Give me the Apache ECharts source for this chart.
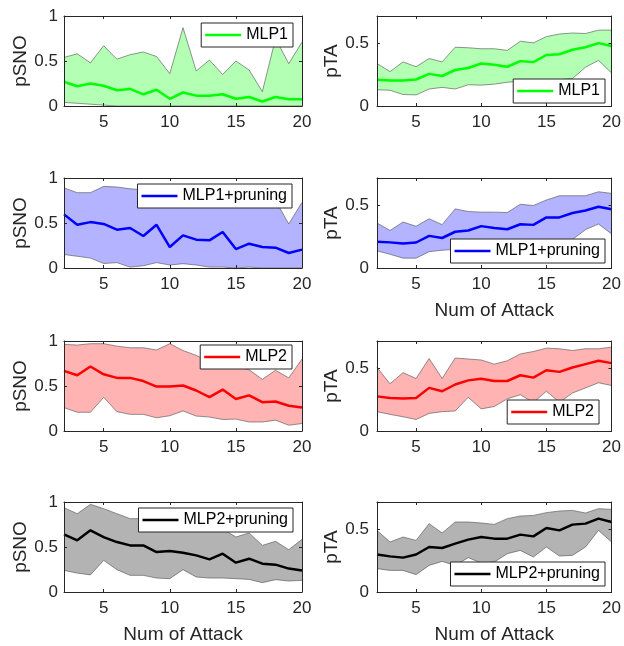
<!DOCTYPE html>
<html>
<head>
<meta charset="utf-8">
<script src="https://cdn.jsdelivr.net/npm/echarts@6/dist/echarts.min.js"></script>
<style>html,body{margin:0;padding:0;background:#fff}#c{width:624px;height:646px}</style>
</head>
<body>
<div id="c"></div>
<script>
// ---- data ----
const attacks = [2,3,4,5,6,7,8,9,10,11,12,13,14,15,16,17,18,19,20];
const xTicks = [5,10,15,20];
const snoTicks = [0,0.5,1];
const taTicks = [0,0.5];

const mlp1SnoMean  = [0.27,0.22,0.25,0.225,0.175,0.19,0.13,0.18,0.08,0.15,0.115,0.115,0.13,0.08,0.10,0.05,0.10,0.075,0.075];
const mlp1SnoUpper = [0.54,0.58,0.48,0.67,0.52,0.57,0.60,0.55,0.36,0.87,0.39,0.51,0.35,0.50,0.40,0.16,0.75,0.47,0.71];
const mlp1SnoLower = [0.04,0.03,0.02,0.01,0,0,0,0,0,0,0,0,0,0,0,0,0,0,0];

const mlp1TaMean  = [0.21,0.204,0.204,0.212,0.257,0.24,0.288,0.304,0.34,0.33,0.314,0.359,0.351,0.408,0.414,0.45,0.47,0.503,0.48];
const mlp1TaUpper = [0.34,0.275,0.353,0.314,0.38,0.353,0.47,0.466,0.458,0.458,0.445,0.518,0.505,0.555,0.576,0.584,0.58,0.607,0.607];
const mlp1TaLower = [0.13,0.126,0.092,0.089,0.136,0.149,0.136,0.17,0.167,0.175,0.19,0.2,0.2,0.21,0.21,0.22,0.31,0.365,0.265];

const mlp1pSnoMean  = [0.596,0.48,0.51,0.49,0.426,0.444,0.355,0.48,0.233,0.363,0.315,0.307,0.40,0.21,0.27,0.233,0.226,0.167,0.204];
const mlp1pSnoUpper = [0.89,0.837,0.837,0.907,0.9,0.88,0.87,0.86,0.85,0.84,0.83,0.82,0.81,0.80,0.79,0.78,0.75,0.49,0.73];
const mlp1pSnoLower = [0.15,0.13,0.11,0.05,0.06,0.01,0.025,0.06,0.033,0.048,0.033,0.01,0.01,0,0.01,0,0,0,0];

const mlp1pTaMean  = [0.21,0.205,0.196,0.204,0.257,0.24,0.29,0.30,0.335,0.32,0.31,0.35,0.345,0.405,0.405,0.44,0.46,0.49,0.47];
const mlp1pTaUpper = [0.36,0.30,0.368,0.334,0.394,0.347,0.473,0.452,0.447,0.447,0.444,0.51,0.50,0.544,0.578,0.578,0.578,0.61,0.597];
const mlp1pTaLower = [0.137,0.11,0.079,0.079,0.131,0.142,0.15,0.16,0.165,0.17,0.185,0.19,0.2,0.21,0.21,0.228,0.307,0.352,0.273];

const mlp2SnoMean  = [0.668,0.62,0.717,0.63,0.59,0.59,0.555,0.494,0.494,0.506,0.45,0.377,0.46,0.355,0.396,0.32,0.328,0.28,0.26];
const mlp2SnoUpper = [0.962,0.955,0.97,0.97,0.943,0.925,0.925,0.90,0.97,0.894,0.84,0.77,0.75,0.72,0.68,0.574,0.675,0.59,0.80];
const mlp2SnoLower = [0.26,0.208,0.208,0.374,0.215,0.185,0.185,0.147,0.17,0.223,0.166,0.155,0.128,0.132,0.10,0.10,0.12,0.064,0.083];

const mlp2TaMean  = [0.277,0.264,0.26,0.264,0.345,0.318,0.372,0.405,0.418,0.40,0.40,0.446,0.427,0.486,0.473,0.508,0.535,0.562,0.543];
const mlp2TaUpper = [0.508,0.378,0.467,0.42,0.58,0.42,0.584,0.576,0.568,0.535,0.562,0.617,0.636,0.663,0.658,0.644,0.658,0.658,0.671];
const mlp2TaLower = [0.155,0.133,0.114,0.092,0.141,0.155,0.16,0.27,0.177,0.196,0.258,0.29,0.228,0.318,0.23,0.304,0.345,0.386,0.364];

const mlp2pSnoMean  = [0.64,0.574,0.685,0.61,0.555,0.518,0.518,0.444,0.455,0.437,0.407,0.363,0.426,0.326,0.37,0.315,0.304,0.26,0.24];
const mlp2pSnoUpper = [0.937,0.87,0.974,0.926,0.87,0.815,0.815,0.8,0.79,0.78,0.76,0.73,0.70,0.611,0.656,0.518,0.563,0.47,0.585];
const mlp2pSnoLower = [0.24,0.21,0.19,0.352,0.248,0.185,0.185,0.155,0.148,0.248,0.167,0.155,0.155,0.148,0.14,0.104,0.137,0.122,0.13];

const mlp2pTaMean  = [0.30,0.285,0.275,0.30,0.36,0.352,0.387,0.419,0.44,0.427,0.427,0.459,0.445,0.512,0.493,0.539,0.547,0.587,0.56];
const mlp2pTaUpper = [0.493,0.40,0.44,0.413,0.547,0.472,0.56,0.56,0.552,0.541,0.587,0.608,0.613,0.635,0.648,0.653,0.632,0.667,0.661];
const mlp2pTaLower = [0.187,0.173,0.173,0.139,0.213,0.245,0.213,0.275,0.232,0.24,0.307,0.333,0.28,0.36,0.288,0.293,0.36,0.493,0.40];

// ---- panel definitions ----
const panels = [
  {name:'MLP1', kind:'sno', mean:mlp1SnoMean, up:mlp1SnoUpper, lo:mlp1SnoLower, color:'#00ff00', fill:'#b3ffb3'},
  {name:'MLP1', kind:'ta',  mean:mlp1TaMean,  up:mlp1TaUpper,  lo:mlp1TaLower,  color:'#00ff00', fill:'#b3ffb3'},
  {name:'MLP1+pruning', kind:'sno', mean:mlp1pSnoMean, up:mlp1pSnoUpper, lo:mlp1pSnoLower, color:'#0000ff', fill:'#b3b3ff'},
  {name:'MLP1+pruning', kind:'ta',  mean:mlp1pTaMean,  up:mlp1pTaUpper,  lo:mlp1pTaLower,  color:'#0000ff', fill:'#b3b3ff'},
  {name:'MLP2', kind:'sno', mean:mlp2SnoMean, up:mlp2SnoUpper, lo:mlp2SnoLower, color:'#ff0000', fill:'#ffb3b3'},
  {name:'MLP2', kind:'ta',  mean:mlp2TaMean,  up:mlp2TaUpper,  lo:mlp2TaLower,  color:'#ff0000', fill:'#ffb3b3'},
  {name:'MLP2+pruning', kind:'sno', mean:mlp2pSnoMean, up:mlp2pSnoUpper, lo:mlp2pSnoLower, color:'#000000', fill:'#b3b3b3'},
  {name:'MLP2+pruning', kind:'ta',  mean:mlp2pTaMean,  up:mlp2pTaUpper,  lo:mlp2pTaLower,  color:'#000000', fill:'#b3b3b3'}
];
// layout
const colLeft = [64, 377], colWidth = [238, 236];
const rowTop = [16, 178, 341, 502], rowH = 90;
const legendPos = [
  {right:331, top:23}, {right:19, top:79},
  {right:332, top:184}, {right:19, top:239},
  {right:332, top:345}, {right:25, top:400},
  {right:331, top:508}, {right:19, top:562}
];
const showXName = [false,false,false,true,false,false,true,true];

const FONT = 'Liberation Sans, Arial, Helvetica, sans-serif';
const AX = '#262626';

const grid=[], xAxis=[], yAxis=[], series=[], legend=[];
panels.forEach((p,i)=>{
  const col=i%2, row=Math.floor(i/2);
  grid.push({left:colLeft[col], top:rowTop[row], width:colWidth[col], height:rowH, containLabel:false});
  const ymax = p.kind==='sno' ? 1 : 0.72;
  const yt = p.kind==='sno' ? snoTicks : taTicks;
  xAxis.push({
    type:'value', gridIndex:i, min:2, max:20, z:10,
    name: showXName[i] ? 'Num of Attack' : '', nameLocation:'middle', nameGap:33,
    nameTextStyle:{fontFamily:FONT, fontSize:19, color:AX},
    axisLine:{show:true, onZero:false, lineStyle:{color:AX, width:1}},
    axisTick:{show:true, inside:true, length:3, customValues:xTicks, lineStyle:{color:AX}},
    axisLabel:{show:true, customValues:xTicks, margin:8, fontFamily:FONT, fontSize:17, color:AX},
    splitLine:{show:false}
  });
  xAxis.push({
    type:'value', gridIndex:i, min:2, max:20, position:'top', z:10,
    axisLine:{show:true, onZero:false, lineStyle:{color:AX, width:1}},
    axisTick:{show:true, inside:true, length:3, customValues:xTicks, lineStyle:{color:AX}},
    axisLabel:{show:false}, splitLine:{show:false}
  });
  yAxis.push({
    type:'value', gridIndex:i, min:0, max:ymax, z:10,
    name: p.kind==='sno' ? 'pSNO' : 'pTA', nameLocation:'middle', nameRotate:90,
    nameGap: p.kind==='sno' ? 33 : 36,
    nameTextStyle:{fontFamily:FONT, fontSize:19, color:AX},
    axisLine:{show:true, onZero:false, lineStyle:{color:AX, width:1}},
    axisTick:{show:true, inside:true, length:3, customValues:yt, lineStyle:{color:AX}},
    axisLabel:{show:true, customValues:yt, margin: p.kind==='sno'?6:8, fontFamily:FONT, fontSize:17, color:AX},
    splitLine:{show:false}
  });
  yAxis.push({
    type:'value', gridIndex:i, min:0, max:ymax, position:'right', z:10,
    axisLine:{show:true, onZero:false, lineStyle:{color:AX, width:1}},
    axisTick:{show:true, inside:true, length:3, customValues:yt, lineStyle:{color:AX}},
    axisLabel:{show:false}, splitLine:{show:false}
  });
  const xi = 2*i, yi = 2*i;
  // shaded band polygon between lower and upper bounds
  series.push({
    type:'custom', name:'band'+i, xAxisIndex:xi, yAxisIndex:yi, silent:true, clip:true,
    data:[[attacks[0], p.lo[0]]], z:1,
    renderItem:(params, api)=>{
      const pts = [];
      attacks.forEach((x,k)=>pts.push(api.coord([x, p.up[k]])));
      for (let k=attacks.length-1;k>=0;k--) pts.push(api.coord([attacks[k], p.lo[k]]));
      return {type:'polygon', shape:{points:pts}, style:{fill:p.fill, stroke:null}};
    }
  });
  series.push({
    type:'line', name:'lo'+i, xAxisIndex:xi, yAxisIndex:yi,
    data: attacks.map((x,k)=>[x, p.lo[k]]), symbol:'none', silent:true,
    lineStyle:{color:'#4d4d4d', width:0.6}, z:2
  });
  series.push({
    type:'line', name:'up'+i, xAxisIndex:xi, yAxisIndex:yi,
    data: attacks.map((x,k)=>[x, p.up[k]]), symbol:'none', silent:true,
    lineStyle:{color:'#4d4d4d', width:0.6}, z:2
  });
  series.push({
    type:'line', name:p.name, xAxisIndex:xi, yAxisIndex:yi,
    data: attacks.map((x,k)=>[x, p.mean[k]]), symbol:'none', silent:true,
    lineStyle:{color:p.color, width:2.5}, itemStyle:{color:p.color}, z:3
  });
  legend.push(Object.assign({
    data:[{name:p.name, icon:'rect'}], orient:'horizontal', selectedMode:false,
    itemWidth:36, itemHeight:2.5, itemGap:0,
    itemStyle:{color:p.color, borderWidth:0},
    padding:[4,5,4,4], borderColor:AX, borderWidth:1, backgroundColor:'#fff', borderRadius:0,
    textStyle:{fontFamily:FONT, fontSize:16, color:'#000'}, z:20
  }, legendPos[i]));
});

const chart = echarts.init(document.getElementById('c'), null, {renderer:'canvas'});
chart.setOption({animation:false, backgroundColor:'#fff', grid, xAxis, yAxis, series, legend});
</script>
</body>
</html>
